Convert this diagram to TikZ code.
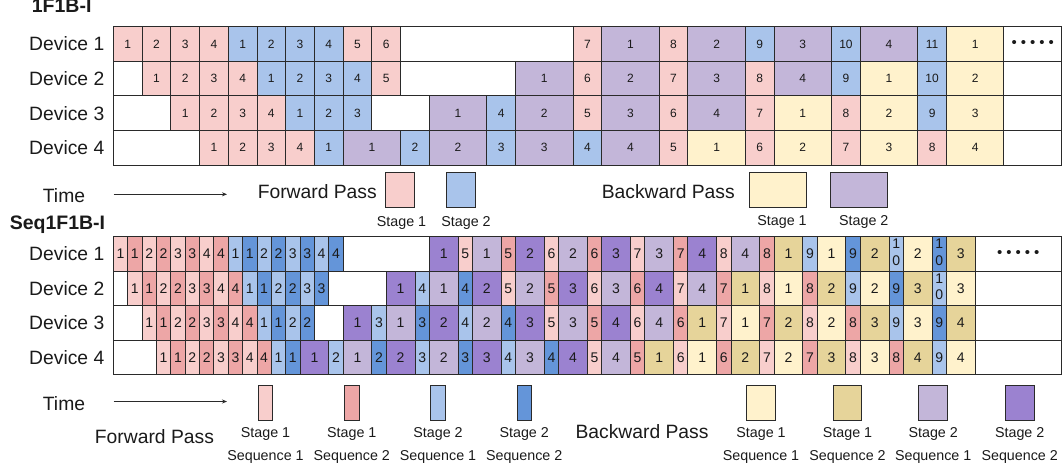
\documentclass[tikz,border=0pt]{standalone}
\usepackage{fontspec}
\setmainfont{Liberation Sans}
\usetikzlibrary{arrows.meta}
\definecolor{cLP}{HTML}{F8CECC}
\definecolor{cDP}{HTML}{EDA6A6}
\definecolor{cLB}{HTML}{A9C4EB}
\definecolor{cDB}{HTML}{6495D9}
\definecolor{cLY}{HTML}{FFF2CC}
\definecolor{cDY}{HTML}{E6D49A}
\definecolor{cLV}{HTML}{C3B6D9}
\definecolor{cDV}{HTML}{9B82D0}
\definecolor{cTxt}{HTML}{1A1A1A}
\definecolor{cLine}{HTML}{2A2A2A}
\newcommand\tenstack{\begin{tabular}{@{}c@{}}1\\0\end{tabular}}
\newcommand\fivedots{{\fontsize{15}{15}\selectfont •\kern4pt•\kern4pt•\kern4pt•\kern4pt•}}
\newcommand\chartArow[3]{%
  \foreach \a/\b/\c/\t [count=\i] in {#3} {%
    \pgfmathsetmacro\cx{113.3+(\a+\b)/2*28.73}%
    \pgfmathsetmacro\cw{(\b-\a)*28.73}%
    \node[cellA,fill=\c,minimum width=\cw pt] (A#1c\i) at (\cx,#2) {\t};
  }}
\newcommand\chartBrow[3]{%
  \foreach \a/\b/\c/\t [count=\i] in {#3} {%
    \pgfmathsetmacro\cx{113.3+(\a+\b)/2*14.365}%
    \pgfmathsetmacro\cw{(\b-\a)*14.365}%
    \node[cellB,fill=\c,minimum width=\cw pt] (B#1c\i) at (\cx,#2) {\t};
  }}
\begin{document}
\begin{tikzpicture}[x=1pt,y=-1pt,
  cellA/.style={draw=cLine,line width=0.9pt,inner sep=0pt,minimum height=34.6pt,
    font=\fontsize{12}{14}\selectfont,text=cTxt},
  cellB/.style={draw=cLine,line width=0.9pt,inner sep=0pt,minimum height=34.45pt,
    font=\fontsize{14}{16.5}\selectfont,text=cTxt},
  big/.style={font=\fontsize{19.3}{22}\selectfont,text=cTxt,inner sep=0pt},
  small/.style={font=\fontsize{14.3}{17}\selectfont,text=cTxt,inner sep=0pt},
  ttl/.style={font=\fontsize{19.5}{22}\selectfont\bfseries,text=cTxt,inner sep=0pt},
  legbox/.style={draw=cLine,line width=0.9pt,inner sep=0pt},
  timearrow/.style={-{Stealth[length=5pt,width=4pt]},line width=0.8pt,draw=cLine}]
\useasboundingbox (0,0) rectangle (1062,471);

% ---------- titles ----------
\node[ttl,anchor=base west] (t1) at (31.7,12.7) {1F1B-I};
\node[ttl,anchor=base west] (t2) at (9.6,229) {Seq1F1B-I};

% ---------- chart 1F1B-I ----------
\foreach \r/\y in {1/44.0,2/78.6,3/113.2,4/147.8}
  \node[big,anchor=east] (dA\r) at (104.5,\y) {Device \r};

\chartArow{1}{44.0}{0/1/cLP/1, 1/2/cLP/2, 2/3/cLP/3, 3/4/cLP/4, 4/5/cLB/1, 5/6/cLB/2, 6/7/cLB/3, 7/8/cLB/4, 8/9/cLP/5, 9/10/cLP/6, 10/16/white/{}, 16/17/cLP/7, 17/19/cLV/1, 19/20/cLP/8, 20/22/cLV/2, 22/23/cLB/9, 23/25/cLV/3, 25/26/cLB/10, 26/28/cLV/4, 28/29/cLB/11, 29/31/cLY/1, 31/33/white/\fivedots}
\chartArow{2}{78.6}{0/1/white/{}, 1/2/cLP/1, 2/3/cLP/2, 3/4/cLP/3, 4/5/cLP/4, 5/6/cLB/1, 6/7/cLB/2, 7/8/cLB/3, 8/9/cLB/4, 9/10/cLP/5, 10/14/white/{}, 14/16/cLV/1, 16/17/cLP/6, 17/19/cLV/2, 19/20/cLP/7, 20/22/cLV/3, 22/23/cLP/8, 23/25/cLV/4, 25/26/cLB/9, 26/28/cLY/1, 28/29/cLB/10, 29/31/cLY/2, 31/33/white/{}}
\chartArow{3}{113.2}{0/2/white/{}, 2/3/cLP/1, 3/4/cLP/2, 4/5/cLP/3, 5/6/cLP/4, 6/7/cLB/1, 7/8/cLB/2, 8/9/cLB/3, 9/11/white/{}, 11/13/cLV/1, 13/14/cLB/4, 14/16/cLV/2, 16/17/cLP/5, 17/19/cLV/3, 19/20/cLP/6, 20/22/cLV/4, 22/23/cLP/7, 23/25/cLY/1, 25/26/cLP/8, 26/28/cLY/2, 28/29/cLB/9, 29/31/cLY/3, 31/33/white/{}}
\chartArow{4}{147.8}{0/3/white/{}, 3/4/cLP/1, 4/5/cLP/2, 5/6/cLP/3, 6/7/cLP/4, 7/8/cLB/1, 8/10/cLV/1, 10/11/cLB/2, 11/13/cLV/2, 13/14/cLB/3, 14/16/cLV/3, 16/17/cLB/4, 17/19/cLV/4, 19/20/cLP/5, 20/22/cLY/1, 22/23/cLP/6, 23/25/cLY/2, 25/26/cLP/7, 26/28/cLY/3, 28/29/cLP/8, 29/31/cLY/4, 31/33/white/{}}

% ---------- legend 1 ----------
\node[big,anchor=base] (timeA) at (64,202.3) {Time};
\coordinate (taS) at (113.5,194.3);
\coordinate (taE) at (227,194.3);
\draw[timearrow] (taS) -- (taE);
\node[big,anchor=base east] (fpA) at (377,198.3) {Forward Pass};
\node[legbox,fill=cLP,minimum width=29pt,minimum height=35.4pt] (lgA1) at (399.5,190) {};
\node[legbox,fill=cLB,minimum width=29pt,minimum height=35.4pt] (lgA2) at (460.5,190) {};
\node[small,anchor=base] (lsA1) at (401.5,226) {Stage 1};
\node[small,anchor=base] (lsA2) at (466,226) {Stage 2};
\node[big,anchor=base east] (bpA) at (735,198.3) {Backward Pass};
\node[legbox,fill=cLY,minimum width=57.4pt,minimum height=35pt] (lgA3) at (778,189.8) {};
\node[legbox,fill=cLV,minimum width=57.4pt,minimum height=35pt] (lgA4) at (858.7,189.8) {};
\node[small,anchor=base] (lsA3) at (782,225.5) {Stage 1};
\node[small,anchor=base] (lsA4) at (863.8,225.5) {Stage 2};

% ---------- chart Seq1F1B-I ----------
\foreach \r/\y in {1/253.9,2/288.4,3/322.8,4/357.3}
  \node[big,anchor=east] (dB\r) at (104.5,\y) {Device \r};

\chartBrow{1}{253.9}{0/1/cLP/1, 1/2/cDP/1, 2/3/cLP/2, 3/4/cDP/2, 4/5/cLP/3, 5/6/cDP/3, 6/7/cLP/4, 7/8/cDP/4, 8/9/cLB/1, 9/10/cDB/1, 10/11/cLB/2, 11/12/cDB/2, 12/13/cLB/3, 13/14/cDB/3, 14/15/cLB/4, 15/16/cDB/4, 16/22/white/{}, 22/24/cDV/1, 24/25/cLP/5, 25/27/cLV/1, 27/28/cDP/5, 28/30/cDV/2, 30/31/cLP/6, 31/33/cLV/2, 33/34/cDP/6, 34/36/cDV/3, 36/37/cLP/7, 37/39/cLV/3, 39/40/cDP/7, 40/42/cDV/4, 42/43/cLP/8, 43/45/cLV/4, 45/46/cDP/8, 46/48/cDY/1, 48/49/cLB/9, 49/51/cLY/1, 51/52/cDB/9, 52/54/cDY/2, 54/55/cLB/\tenstack, 55/57/cLY/2, 57/58/cDB/\tenstack, 58/60/cDY/3, 60/66/white/\fivedots}
\chartBrow{2}{288.4}{0/1/white/{}, 1/2/cLP/1, 2/3/cDP/1, 3/4/cLP/2, 4/5/cDP/2, 5/6/cLP/3, 6/7/cDP/3, 7/8/cLP/4, 8/9/cDP/4, 9/10/cLB/1, 10/11/cDB/1, 11/12/cLB/2, 12/13/cDB/2, 13/14/cLB/3, 14/15/cDB/3, 15/19/white/{}, 19/21/cDV/1, 21/22/cLB/4, 22/24/cLV/1, 24/25/cDB/4, 25/27/cDV/2, 27/28/cLP/5, 28/30/cLV/2, 30/31/cDP/5, 31/33/cDV/3, 33/34/cLP/6, 34/36/cLV/3, 36/37/cDP/6, 37/39/cDV/4, 39/40/cLP/7, 40/42/cLV/4, 42/43/cDP/7, 43/45/cDY/1, 45/46/cLP/8, 46/48/cLY/1, 48/49/cDP/8, 49/51/cDY/2, 51/52/cLB/9, 52/54/cLY/2, 54/55/cDB/9, 55/57/cDY/3, 57/58/cLB/\tenstack, 58/60/cLY/3, 60/66/white/{}}
\chartBrow{3}{322.8}{0/2/white/{}, 2/3/cLP/1, 3/4/cDP/1, 4/5/cLP/2, 5/6/cDP/2, 6/7/cLP/3, 7/8/cDP/3, 8/9/cLP/4, 9/10/cDP/4, 10/11/cLB/1, 11/12/cDB/1, 12/13/cLB/2, 13/14/cDB/2, 14/16/white/{}, 16/18/cDV/1, 18/19/cLB/3, 19/21/cLV/1, 21/22/cDB/3, 22/24/cDV/2, 24/25/cLB/4, 25/27/cLV/2, 27/28/cDB/4, 28/30/cDV/3, 30/31/cLP/5, 31/33/cLV/3, 33/34/cDP/5, 34/36/cDV/4, 36/37/cLP/6, 37/39/cLV/4, 39/40/cDP/6, 40/42/cDY/1, 42/43/cLP/7, 43/45/cLY/1, 45/46/cDP/7, 46/48/cDY/2, 48/49/cLP/8, 49/51/cLY/2, 51/52/cDP/8, 52/54/cDY/3, 54/55/cLB/9, 55/57/cLY/3, 57/58/cDB/9, 58/60/cDY/4, 60/66/white/{}}
\chartBrow{4}{357.3}{0/3/white/{}, 3/4/cLP/1, 4/5/cDP/1, 5/6/cLP/2, 6/7/cDP/2, 7/8/cLP/3, 8/9/cDP/3, 9/10/cLP/4, 10/11/cDP/4, 11/12/cLB/1, 12/13/cDB/1, 13/15/cDV/1, 15/16/cLB/2, 16/18/cLV/1, 18/19/cDB/2, 19/21/cDV/2, 21/22/cLB/3, 22/24/cLV/2, 24/25/cDB/3, 25/27/cDV/3, 27/28/cLB/4, 28/30/cLV/3, 30/31/cDB/4, 31/33/cDV/4, 33/34/cLP/5, 34/36/cLV/4, 36/37/cDP/5, 37/39/cDY/1, 39/40/cLP/6, 40/42/cLY/1, 42/43/cDP/6, 43/45/cDY/2, 45/46/cLP/7, 46/48/cLY/2, 48/49/cDP/7, 49/51/cDY/3, 51/52/cLP/8, 52/54/cLY/3, 54/55/cDP/8, 55/57/cDY/4, 57/58/cLB/9, 58/60/cLY/4, 60/66/white/{}}

% ---------- legend 2 ----------
\node[big,anchor=base] (timeB) at (64,410.5) {Time};
\coordinate (tbS) at (113.5,401.5);
\coordinate (tbE) at (227,401.5);
\draw[timearrow] (tbS) -- (tbE);
\node[big,anchor=base west] (fpB) at (94.7,443.3) {Forward Pass};
\node[big,anchor=base west] (bpB) at (575.3,438.3) {Backward Pass};
\foreach \x/\c/\s/\q [count=\i] in {265.5/cLP/1/1, 351.8/cDP/1/2, 438/cLB/2/1, 524.2/cDB/2/2}{
  \node[legbox,fill=\c,minimum width=14.4pt,minimum height=35pt] (lgBf\i) at (\x,402.5) {};
  \node[small,anchor=base] (lsBf\i) at (\x,437) {Stage \s};
  \node[small,anchor=base] (lqBf\i) at (\x,460) {Sequence \q};
}
\foreach \x/\c/\s/\q [count=\i] in {761/cLY/1/1, 847.5/cDY/1/2, 933.2/cLV/2/1, 1019.7/cDV/2/2}{
  \node[legbox,fill=\c,minimum width=28.7pt,minimum height=35pt] (lgBb\i) at (\x,402.5) {};
  \node[small,anchor=base] (lsBb\i) at (\x,437) {Stage \s};
  \node[small,anchor=base] (lqBb\i) at (\x,460) {Sequence \q};
}
\end{tikzpicture}
\end{document}
